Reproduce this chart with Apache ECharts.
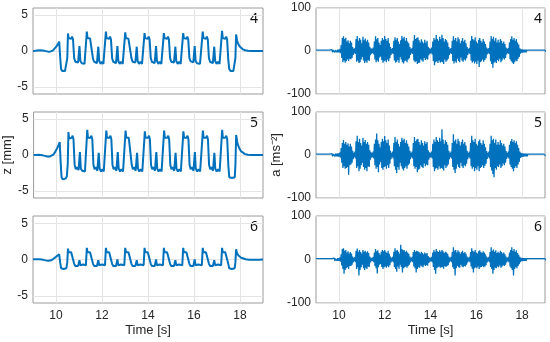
<!DOCTYPE html>
<html><head><meta charset="utf-8">
<script src="https://cdn.jsdelivr.net/npm/echarts@6/dist/echarts.min.js"></script>
<style>html,body{margin:0;padding:0;background:#fff}#c{width:550px;height:342px}</style>
</head><body><div id="c"></div><script>
const xTicks = [10, 12, 14, 16, 18];
const zTicks = [-5, 0, 5];
const aTicks = [-100, 0, 100];
const panelLabels = ['4', '5', '6'];
const xLabel = 'Time [s]';
const zLabel = 'z [mm]';
const aLabel = 'a [ms\u207B\u00B2]';

// displacement z [mm] vs time [s]
const z4 = [
[9.00,0.00],[9.10,0.02],[9.20,0.06],[9.30,0.10],[9.40,0.08],[9.50,0.02],[9.60,-0.05],[9.70,-0.12],[9.78,-0.10],[9.86,0.05],[9.94,0.30],[10.02,0.65],[10.09,1.00],[10.14,1.30],
[10.18,-0.8],[10.22,-2.5],[10.27,-2.8],[10.33,-2.6],[10.39,-2.8],[10.45,-2.6],[10.49,-1.0],
[10.52,2.45],[10.55,1.8],[10.60,1.6],[10.66,1.7],[10.70,2.0],[10.74,1.6],[10.79,-1.0],[10.84,-1.5],[10.90,-1.3],[10.96,-1.6],[11.02,0.7],[11.06,-1.4],[11.12,-1.7],[11.18,-1.5],[11.24,-1.8],[11.30,-1.6],
[11.34,2.7],[11.37,1.8],[11.42,1.6],[11.48,1.75],[11.52,2.0],[11.56,1.6],[11.61,-1.1],[11.66,-1.5],[11.72,-1.3],[11.78,-1.7],[11.84,0.6],[11.88,-1.4],[11.94,-1.8],[12.00,-1.5],[12.06,-1.8],[12.13,-1.6],
[12.17,2.7],[12.20,1.8],[12.25,1.6],[12.31,1.7],[12.35,2.0],[12.39,1.6],[12.44,-1.0],[12.49,-1.5],[12.55,-1.3],[12.61,-1.7],[12.67,0.7],[12.71,-1.4],[12.77,-1.8],[12.83,-1.5],[12.90,-1.8],[12.97,-1.6],
[13.01,2.6],[13.04,1.8],[13.09,1.6],[13.15,1.7],[13.19,1.9],[13.23,1.6],[13.28,-1.0],[13.33,-1.5],[13.39,-1.3],[13.45,-1.6],[13.51,0.6],[13.55,-1.4],[13.61,-1.8],[13.67,-1.5],[13.74,-1.8],[13.81,-1.6],
[13.85,2.5],[13.88,1.8],[13.93,1.6],[13.99,1.7],[14.03,2.0],[14.07,1.6],[14.12,-1.0],[14.17,-1.5],[14.23,-1.3],[14.29,-1.7],[14.35,0.7],[14.39,-1.4],[14.45,-1.8],[14.51,-1.5],[14.58,-1.8],[14.65,-1.6],
[14.69,2.5],[14.72,1.8],[14.77,1.6],[14.83,1.7],[14.87,2.0],[14.91,1.6],[14.96,-1.0],[15.01,-1.5],[15.07,-1.3],[15.13,-1.6],[15.19,0.6],[15.23,-1.4],[15.29,-1.8],[15.35,-1.5],[15.42,-1.8],[15.49,-1.6],
[15.53,2.5],[15.56,1.8],[15.61,1.6],[15.67,1.7],[15.71,2.0],[15.75,1.6],[15.80,-1.0],[15.85,-1.4],[15.91,-1.3],[15.97,-1.6],[16.03,0.7],[16.07,-1.4],[16.13,-1.7],[16.19,-1.5],[16.26,-1.8],[16.34,-1.6],
[16.38,2.7],[16.41,1.8],[16.46,1.6],[16.52,1.7],[16.56,2.0],[16.60,1.6],[16.65,-1.0],[16.70,-1.5],[16.76,-1.3],[16.82,-1.7],[16.88,0.6],[16.92,-1.4],[16.98,-1.8],[17.04,-1.5],[17.11,-1.8],[17.18,-1.6],
[17.22,2.8],[17.25,1.8],[17.30,1.6],[17.36,1.7],[17.40,2.0],[17.44,1.6],[17.49,-1.2],[17.53,-2.5],[17.59,-2.8],[17.65,-2.6],[17.71,-2.8],[17.77,-2.6],[17.80,-1.0],
[17.83,2.3],[17.87,1.5],[17.92,1.0],[17.98,0.65],[18.05,0.4],[18.13,0.22],[18.22,0.1],[18.35,0.03],[18.50,0.0],[18.70,0.0],[19.00,0.0]
];
const z5 = [
[9.00,0.00],[9.10,0.00],[9.20,0.02],[9.30,0.00],[9.40,-0.05],[9.50,-0.12],[9.60,-0.20],[9.70,-0.22],[9.78,-0.15],[9.86,0.05],[9.94,0.40],[10.02,0.90],[10.09,1.40],[10.14,1.80],
[10.18,-1.0],[10.22,-3.1],[10.27,-3.4],[10.33,-3.2],[10.39,-3.3],[10.45,-3.0],[10.49,-1.2],
[10.52,3.2],[10.55,2.3],[10.60,2.2],[10.66,2.4],[10.70,2.7],[10.74,2.2],[10.79,-1.4],[10.84,-2.0],[10.90,-1.7],[10.96,-2.1],[11.02,0.4],[11.06,-1.9],[11.12,-2.2],[11.18,-2.0],[11.24,-2.3],[11.30,-2.1],
[11.34,3.5],[11.37,2.4],[11.42,2.2],[11.48,2.4],[11.52,2.7],[11.56,2.2],[11.61,-1.4],[11.66,-2.0],[11.72,-1.7],[11.78,-2.2],[11.84,0.3],[11.88,-1.9],[11.94,-2.3],[12.00,-2.0],[12.06,-2.3],[12.13,-2.1],
[12.17,3.4],[12.20,2.4],[12.25,2.2],[12.31,2.4],[12.35,2.7],[12.39,2.2],[12.44,-1.4],[12.49,-2.0],[12.55,-1.7],[12.61,-2.2],[12.67,0.4],[12.71,-1.9],[12.77,-2.3],[12.83,-2.0],[12.90,-2.3],[12.97,-2.1],
[13.01,3.4],[13.04,2.4],[13.09,2.2],[13.15,2.4],[13.19,2.6],[13.23,2.2],[13.28,-1.4],[13.33,-2.0],[13.39,-1.7],[13.45,-2.2],[13.51,0.3],[13.55,-1.9],[13.61,-2.3],[13.67,-2.0],[13.74,-2.3],[13.81,-2.1],
[13.85,3.3],[13.88,2.4],[13.93,2.2],[13.99,2.4],[14.03,2.7],[14.07,2.2],[14.12,-1.4],[14.17,-2.0],[14.23,-1.7],[14.29,-2.2],[14.35,0.4],[14.39,-1.9],[14.45,-2.3],[14.51,-2.0],[14.58,-2.3],[14.65,-2.1],
[14.69,3.4],[14.72,2.4],[14.77,2.2],[14.83,2.4],[14.87,2.7],[14.91,2.2],[14.96,-1.4],[15.01,-2.0],[15.07,-1.7],[15.13,-2.2],[15.19,0.3],[15.23,-1.9],[15.29,-2.3],[15.35,-2.0],[15.42,-2.3],[15.49,-2.1],
[15.53,3.3],[15.56,2.4],[15.61,2.2],[15.67,2.4],[15.71,2.7],[15.75,2.2],[15.80,-1.4],[15.85,-2.0],[15.91,-1.7],[15.97,-2.2],[16.03,0.4],[16.07,-1.9],[16.13,-2.3],[16.19,-2.0],[16.26,-2.3],[16.34,-2.1],
[16.38,3.4],[16.41,2.4],[16.46,2.2],[16.52,2.4],[16.56,2.7],[16.60,2.2],[16.65,-1.4],[16.70,-2.0],[16.76,-1.7],[16.82,-2.2],[16.88,0.3],[16.92,-1.9],[16.98,-2.3],[17.04,-2.0],[17.11,-2.3],[17.18,-2.1],
[17.22,3.5],[17.25,2.4],[17.30,2.2],[17.36,2.4],[17.40,2.7],[17.44,2.2],[17.49,-1.5],[17.53,-3.1],[17.59,-3.3],[17.65,-3.2],[17.71,-3.3],[17.77,-3.1],[17.80,-1.2],
[17.83,2.8],[17.87,1.9],[17.92,1.3],[17.98,0.85],[18.05,0.5],[18.13,0.28],[18.22,0.12],[18.35,0.04],[18.50,0.0],[18.70,0.0],[19.00,0.0]
];
const z6 = [
[9.00,0.05],[9.15,0.05],[9.30,0.02],[9.45,-0.05],[9.55,-0.12],[9.65,-0.18],[9.75,-0.15],[9.85,0.00],[9.95,0.25],[10.05,0.50],[10.14,0.70],
[10.18,-0.4],[10.22,-1.2],[10.27,-1.4],[10.33,-1.3],[10.39,-1.35],[10.45,-1.2],[10.49,-0.4],
[10.52,1.5],[10.55,1.0],[10.60,0.9],[10.66,1.0],[10.70,1.2],[10.74,0.9],[10.79,-0.6],[10.84,-0.9],[10.90,-0.7],[10.96,-0.9],[11.02,-0.1],[11.06,-0.8],[11.12,-0.9],[11.18,-0.7],[11.24,-0.9],[11.30,-0.8],
[11.34,1.6],[11.37,1.0],[11.42,0.9],[11.48,1.0],[11.52,1.2],[11.56,0.9],[11.61,-0.6],[11.66,-0.9],[11.72,-0.7],[11.78,-0.9],[11.84,-0.1],[11.88,-0.8],[11.94,-0.9],[12.00,-0.7],[12.06,-0.9],[12.13,-0.8],
[12.17,1.6],[12.20,1.0],[12.25,0.9],[12.31,1.0],[12.35,1.2],[12.39,0.9],[12.44,-0.6],[12.49,-0.9],[12.55,-0.7],[12.61,-0.9],[12.67,0.0],[12.71,-0.8],[12.77,-0.9],[12.83,-0.7],[12.90,-0.9],[12.97,-0.8],
[13.01,1.6],[13.04,1.0],[13.09,0.9],[13.15,1.0],[13.19,1.2],[13.23,0.9],[13.28,-0.6],[13.33,-0.9],[13.39,-0.7],[13.45,-0.9],[13.51,-0.1],[13.55,-0.8],[13.61,-0.9],[13.67,-0.7],[13.74,-0.9],[13.81,-0.8],
[13.85,1.6],[13.88,1.0],[13.93,0.9],[13.99,1.0],[14.03,1.2],[14.07,0.9],[14.12,-0.6],[14.17,-0.9],[14.23,-0.7],[14.29,-0.9],[14.35,0.0],[14.39,-0.8],[14.45,-0.9],[14.51,-0.7],[14.58,-0.9],[14.65,-0.8],
[14.69,1.6],[14.72,1.0],[14.77,0.9],[14.83,1.0],[14.87,1.2],[14.91,0.9],[14.96,-0.6],[15.01,-0.9],[15.07,-0.7],[15.13,-0.9],[15.19,-0.1],[15.23,-0.8],[15.29,-0.9],[15.35,-0.7],[15.42,-0.9],[15.49,-0.8],
[15.53,1.6],[15.56,1.0],[15.61,0.9],[15.67,1.0],[15.71,1.2],[15.75,0.9],[15.80,-0.6],[15.85,-0.9],[15.91,-0.7],[15.97,-0.9],[16.03,0.0],[16.07,-0.8],[16.13,-0.9],[16.19,-0.7],[16.26,-0.9],[16.34,-0.8],
[16.38,1.6],[16.41,1.0],[16.46,0.9],[16.52,1.0],[16.56,1.2],[16.60,0.9],[16.65,-0.6],[16.70,-0.9],[16.76,-0.7],[16.82,-0.9],[16.88,-0.1],[16.92,-0.8],[16.98,-0.9],[17.04,-0.7],[17.11,-0.9],[17.18,-0.8],
[17.22,1.6],[17.25,1.0],[17.30,0.9],[17.36,1.0],[17.40,1.2],[17.44,0.9],[17.49,-0.6],[17.53,-1.2],[17.59,-1.4],[17.65,-1.3],[17.71,-1.4],[17.77,-1.2],[17.80,-0.4],
[17.83,1.4],[17.87,0.9],[17.92,0.6],[17.98,0.4],[18.05,0.25],[18.13,0.12],[18.25,0.03],[18.40,-0.03],[18.60,-0.05],[18.80,-0.02],[19.00,0.00]
];

// acceleration envelope (max / min per 0.05 s bin), from t = 9.00 s
const accStart = 9.0, accStep = 0.05;
const a4Hi = [
2,2,2,2,2,2,2,2,2,2, 2,2,2,2,3,2,3,2,3,3,
3,5,14,30,34,28,31,22,25,18, 24,20,9,5,7,28,35,24,30,26,
18,33,25,29,22,26,20,10,6,5, 8,22,34,27,30,20,14,24,30,26,
35,28,24,30,18,9,5,7,24,32, 26,30,22,16,25,35,29,33,24,30,
22,18,9,5,7,24,37,28,30,32, 25,20,27,22,18,26,20,24,10,6,
5,8,22,30,26,37,28,24,33,27, 38,30,22,28,25,20,9,5,7,24,
34,26,30,22,32,27,18,24,30,22, 26,18,9,5,7,24,35,28,25,32,
22,18,26,30,24,20,28,22,16,8, 5,7,22,35,28,33,24,30,20,26,
20,28,24,18,22,16,8,5,7,20, 28,34,26,30,24,28,20,15,6,4,
4,3,3,3,2,2,2,2,2,2, 2,2,2,2,2,2,2,2,2,2, 2];
const a4Lo = [
-2,-2,-2,-2,-2,-2,-2,-2,-2,-2, -2,-2,-2,-2,-3,-2,-3,-2,-3,-3,
-3,-5,-16,-26,-22,-27,-24,-20,-23,-18, -19,-16,-9,-5,-7,-25,-22,-28,-26,-20,
-14,-22,-28,-24,-27,-21,-23,-10,-6,-5, -8,-20,-26,-22,-25,-15,-13,-21,-27,-24,
-22,-26,-20,-24,-17,-9,-5,-7,-22,-27, -25,-21,-27,-14,-20,-26,-29,-24,-22,-26,
-20,-17,-9,-5,-7,-22,-26,-24,-30,-28, -27,-19,-22,-25,-16,-21,-18,-20,-10,-6,
-5,-8,-23,-33,-26,-24,-28,-22,-27,-25, -26,-30,-20,-25,-22,-18,-9,-5,-7,-23,
-29,-24,-27,-18,-23,-26,-15,-22,-25,-20, -22,-17,-9,-5,-7,-22,-27,-24,-29,-25,
-30,-22,-37,-26,-24,-20,-25,-21,-17,-8, -5,-7,-24,-30,-39,-27,-25,-28,-21,-24,
-18,-26,-22,-17,-20,-16,-8,-5,-7,-19, -24,-27,-30,-26,-22,-24,-18,-14,-6,-4,
-4,-3,-3,-3,-2,-2,-2,-2,-2,-2, -2,-2,-2,-2,-2,-2,-2,-2,-2,-2, -2];
const a5Hi = [
2,2,2,2,2,2,2,2,2,2, 2,2,2,2,3,2,3,3,3,4,
4,6,16,28,35,26,30,24,27,20, 26,20,10,5,8,32,45,30,38,28,
22,40,30,35,26,30,24,11,6,5, 8,26,36,50,34,26,18,30,38,32,
44,34,28,36,22,10,5,8,28,42, 30,36,26,20,30,40,34,38,28,34,
26,20,10,5,8,28,42,32,36,38, 30,24,34,28,22,32,26,30,11,6,
5,8,26,36,30,42,34,30,40,32, 60,36,26,34,30,24,10,5,8,28,
48,32,36,26,38,32,22,30,36,26, 30,22,10,5,8,28,45,34,30,38,
26,22,32,36,28,24,34,26,18,9, 5,8,26,45,34,38,28,36,24,30,
24,34,28,22,26,20,9,5,8,24, 32,37,30,34,28,32,24,16,8,5,
4,4,3,3,3,2,2,2,2,2, 2,2,2,2,2,2,2,2,2,2, 2];
const a5Lo = [
-2,-2,-2,-2,-2,-2,-2,-2,-2,-2, -2,-2,-2,-2,-3,-2,-3,-3,-3,-4,
-4,-6,-18,-30,-26,-32,-30,-28,-46,-24, -22,-18,-10,-5,-8,-30,-26,-38,-32,-24,
-18,-28,-34,-30,-38,-26,-28,-11,-6,-5, -8,-24,-32,-28,-40,-22,-16,-30,-34,-28,
-26,-32,-24,-30,-20,-10,-5,-8,-26,-34, -42,-28,-34,-18,-26,-32,-36,-30,-26,-32,
-24,-20,-10,-5,-8,-26,-32,-28,-40,-34, -32,-24,-28,-30,-20,-26,-22,-24,-11,-6,
-5,-8,-28,-38,-32,-30,-34,-26,-32,-30, -32,-36,-24,-30,-26,-22,-10,-5,-8,-28,
-34,-42,-32,-22,-28,-30,-18,-26,-30,-24, -26,-20,-10,-5,-8,-26,-32,-28,-38,-30,
-34,-26,-38,-30,-28,-24,-30,-25,-20,-9, -5,-8,-28,-36,-44,-52,-30,-34,-26,-28,
-22,-30,-26,-20,-24,-18,-9,-5,-8,-22, -28,-32,-38,-30,-26,-30,-22,-16,-7,-5,
-4,-4,-3,-3,-3,-2,-2,-2,-2,-2, -2,-2,-2,-2,-2,-2,-2,-2,-2,-2, -2];
const a6Hi = [
2,2,2,2,2,2,2,2,2,2, 2,2,2,2,2,2,3,2,3,3,
3,5,12,24,26,20,22,16,19,14, 17,14,7,4,6,20,25,18,22,17,
14,22,18,20,16,19,15,7,4,4, 6,16,24,19,21,15,11,18,22,19,
22,18,15,20,13,7,4,6,18,26, 20,22,18,13,34,24,21,22,17,20,
16,13,7,4,6,17,22,18,20,19, 17,14,18,15,12,16,13,15,8,5,
4,6,16,22,18,24,19,17,21,18, 22,19,15,18,16,13,7,4,6,17,
28,20,22,16,21,18,13,17,20,15, 17,13,7,4,6,17,26,20,18,22,
16,14,19,21,17,15,19,16,12,7, 4,6,17,28,20,23,18,21,15,18,
15,20,17,14,16,12,7,4,6,16, 22,28,20,24,18,21,15,11,6,4,
4,3,3,3,2,2,2,2,2,2, 2,2,2,2,2,2,2,2,2,2, 2];
const a6Lo = [
-2,-2,-2,-2,-2,-2,-2,-2,-2,-2, -2,-2,-2,-2,-2,-2,-3,-2,-3,-3,
-3,-5,-14,-22,-33,-24,-20,-18,-22,-15, -15,-12,-7,-4,-6,-22,-18,-37,-24,-18,
-12,-20,-24,-19,-22,-16,-17,-7,-4,-4, -6,-15,-20,-32,-18,-12,-10,-17,-22,-18,
-16,-19,-15,-18,-13,-7,-4,-6,-17,-22, -28,-16,-21,-12,-17,-30,-20,-18,-16,-19,
-15,-12,-7,-4,-6,-16,-20,-30,-22,-18, -19,-14,-16,-18,-12,-15,-13,-14,-8,-5,
-4,-6,-17,-24,-33,-20,-18,-16,-19,-18, -18,-21,-15,-17,-15,-13,-7,-4,-6,-18,
-22,-37,-20,-15,-18,-19,-12,-16,-18,-15, -16,-12,-7,-4,-6,-16,-21,-30,-20,-18,
-20,-16,-22,-18,-17,-15,-18,-16,-13,-7, -4,-6,-17,-22,-33,-24,-19,-20,-16,-18,
-14,-19,-16,-13,-15,-12,-7,-4,-6,-16, -20,-24,-37,-22,-18,-20,-15,-11,-6,-4,
-4,-3,-3,-3,-2,-2,-2,-2,-2,-2, -2,-2,-2,-2,-2,-2,-2,-2,-2,-2, -2];

function envelope(hi, lo) {
  const out = [];
  for (let i = 0; i < hi.length; i++) {
    const t = accStart + i * accStep;
    out.push([t, hi[i]]);
    out.push([t + accStep / 2, lo[i]]);
  }
  return out;
}

const BLUE = '#0072BD';
const TXT = '#262626';
const FONT = 'Liberation Sans';
const tops = [8, 112, 216];
const heights = [86, 86, 87];

const grids = [], xAxes = [], yAxes = [], series = [], graphics = [];
const zData = [z4, z5, z6];
const aData = [[a4Hi, a4Lo], [a5Hi, a5Lo], [a6Hi, a6Lo]];

for (let r = 0; r < 3; r++) {
  for (let c = 0; c < 2; c++) {
    const gi = r * 2 + c;
    const bottom = r === 2;
    grids.push({
      left: c === 0 ? 33 : 316, top: tops[r], width: c === 0 ? 230 : 229, height: heights[r],
      show: true, borderColor: '#9a9a9a', borderWidth: 1, backgroundColor: 'transparent'
    });
    xAxes.push({
      type: 'value', gridIndex: gi, min: 9, max: 19,
      axisLine: { show: false },
      axisTick: { show: false, customValues: xTicks },
      axisLabel: { show: bottom, customValues: xTicks, color: TXT, fontSize: 12, fontFamily: FONT, margin: 7 },
      splitLine: { show: true, lineStyle: { color: '#e4e4e4', width: 1 } },
      name: bottom ? xLabel : '', nameLocation: 'middle', nameGap: 21,
      nameTextStyle: { color: TXT, fontSize: 13, fontFamily: FONT }
    });
    if (c === 0) {
      yAxes.push({
        type: 'value', gridIndex: gi, min: -6, max: 6,
        axisLine: { show: false },
        axisTick: { show: false, customValues: zTicks },
        axisLabel: { customValues: zTicks, color: TXT, fontSize: 12, fontFamily: FONT, margin: 5 },
        splitLine: { show: true, lineStyle: { color: '#e4e4e4', width: 1 } },
        name: r === 1 ? zLabel : '', nameLocation: 'middle', nameGap: 14, nameRotate: 90,
        nameTextStyle: { color: TXT, fontSize: 13, fontFamily: FONT }
      });
      series.push({
        type: 'line', xAxisIndex: gi, yAxisIndex: gi, data: zData[r],
        showSymbol: false, symbol: 'none', lineStyle: { color: BLUE, width: 2 }, z: 3
      });
    } else {
      yAxes.push({
        type: 'value', gridIndex: gi, min: -100, max: 100, interval: 100,
        axisLine: { show: false },
        axisTick: { show: false },
        axisLabel: { color: TXT, fontSize: 12, fontFamily: FONT, margin: 5 },
        splitLine: { show: true, lineStyle: { color: '#e4e4e4', width: 1 } },
        name: r === 1 ? aLabel : '', nameLocation: 'middle', nameGap: 28, nameRotate: 90,
        nameTextStyle: { color: TXT, fontSize: 13, fontFamily: FONT }
      });
      series.push({
        type: 'line', xAxisIndex: gi, yAxisIndex: gi, data: envelope(aData[r][0], aData[r][1]),
        showSymbol: false, symbol: 'none', lineStyle: { color: BLUE, width: 1.3 }, z: 3
      });
    }
    graphics.push({
      type: 'text', right: c === 0 ? 550 - 258 : 550 - 542, top: tops[r] + 4,
      style: { text: panelLabels[r], fill: '#111', fontSize: 14, fontFamily: 'Noto Sans' }
    });
  }
}

const chart = echarts.init(document.getElementById('c'), null, { renderer: 'canvas' });
chart.setOption({
  animation: false,
  backgroundColor: '#fff',
  grid: grids, xAxis: xAxes, yAxis: yAxes, series: series, graphic: graphics
});
</script></body></html>
